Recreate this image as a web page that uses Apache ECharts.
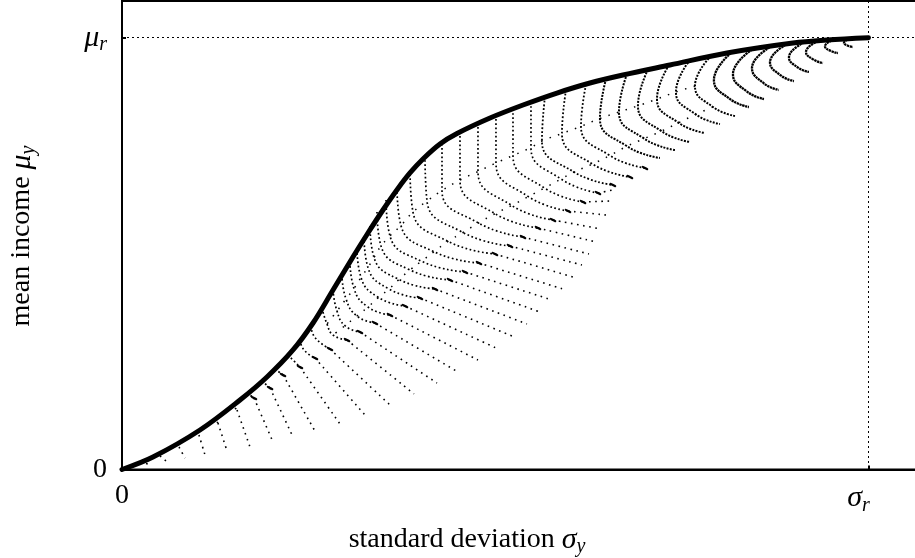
<!DOCTYPE html>
<html><head><meta charset="utf-8">
<script src="https://cdn.jsdelivr.net/npm/echarts@6/dist/echarts.min.js"></script>
<style>html,body{margin:0;padding:0;background:#fff}#c{width:915px;height:558px}</style>
</head><body><div id="c"></div>
<script>
// units: sigma in % of sigma_r, mu in % of mu_r
const frontierX = [0, 4.15, 10.45, 15.81, 19.42, 22.91, 25.59, 28.27, 30.94, 32.95, 34.96, 36.97, 38.58, 40.32, 42.60, 44.88, 49.30, 53.72, 58.27, 62.69, 67.11, 73.41, 81.05, 89.89, 94.44, 100];
const frontierY = [0, 2.89, 9.15, 16.10, 21.42, 27.68, 33.93, 41.57, 49.21, 54.77, 60.10, 65.08, 68.67, 71.91, 75.38, 77.81, 81.40, 84.41, 87.19, 89.51, 91.36, 93.68, 96.46, 98.77, 99.47, 100];

// curve heads: from frontier to the dense end
const arcHeads = [
 [[97.52,99.82],[96.72,98.82],[97.25,98.15],[97.92,97.85]],
 [[95.38,99.58],[94.17,98.01],[94.97,96.92],[95.92,96.46]],
 [[93.24,99.24],[91.63,96.69],[92.66,94.91],[93.91,94.14]],
 [[91.36,98.89],[89.35,95.46],[90.56,93.08],[92.03,92.06]],
 [[89.22,98.66],[86.81,94.30],[88.25,91.27],[90.02,89.97]],
 [[87.07,98.08],[84.40,92.98],[86.00,89.42],[88.01,87.89]],
 [[84.40,97.27],[81.85,91.53],[83.73,87.52],[86.00,85.80]],
 [[81.58,96.46],[79.30,90.20],[81.42,85.83],[83.99,83.95]],
 [[78.90,95.76],[76.76,88.81],[79.17,83.95],[82.12,81.87]],
 [[76.09,94.84],[74.21,87.43],[76.87,82.24],[80.11,80.01]],
 [[73.28,93.68],[71.67,85.80],[74.56,80.29],[78.10,77.93]],
 [[70.46,92.64],[69.12,84.23],[72.26,78.37],[76.09,75.85]],
 [[67.65,91.59],[66.58,82.79],[69.95,76.63],[74.08,73.99]],
 [[64.84,90.44],[64.03,81.29],[67.65,74.87],[72.07,72.14]],
 [[62.16,89.16],[61.49,79.48],[65.35,72.72],[70.06,69.82]],
 [[59.48,87.89],[58.94,77.81],[63.04,70.75],[68.05,67.74]],
 [[56.66,86.27],[56.26,76.08],[60.55,68.90],[65.77,65.89]],
 [[54.79,85.11],[54.79,74.57],[58.81,67.28],[63.76,64.03]],
 [[52.38,83.49],[52.38,72.72],[56.60,65.19],[61.76,61.95]],
 [[50.10,82.10],[50.10,70.98],[54.44,63.20],[59.75,59.87]],
 [[47.69,80.25],[47.69,69.01],[52.22,61.14],[57.74,57.78]],
 [[45.28,78.16],[45.28,67.05],[49.97,59.26],[55.73,55.93]],
 [[42.87,75.38],[42.87,64.61],[47.76,57.09],[53.72,53.84]],
 [[40.59,72.60],[40.86,62.18],[45.68,54.89],[51.98,51.76]],
 [[38.58,69.36],[38.98,59.63],[43.67,52.83],[49.97,49.91]],
 [[36.84,65.19],[37.37,56.51],[41.80,50.42],[47.82,47.82]],
 [[35.37,62.41],[35.90,54.08],[40.12,48.24],[45.95,45.74]],
 [[34.16,59.63],[34.70,51.76],[38.58,46.20],[43.94,43.89]],
 [[33.22,56.39],[33.76,49.10],[37.11,44.00],[41.93,41.80]],
 [[32.42,53.84],[32.95,46.78],[35.77,41.80],[39.92,39.72]],
 [[31.48,51.07],[32.02,44.47],[34.37,39.83],[37.91,37.86]],
 [[30.54,48.05],[31.08,41.92],[32.95,37.63],[35.90,35.78]],
 [[29.47,45.04],[30.01,39.49],[31.48,35.55],[33.89,33.93]],
 [[28.27,41.57],[28.80,36.71],[29.87,33.30],[31.88,31.84]],
 [[26.79,37.40],[27.46,33.70],[28.27,31.15],[30.14,29.99]],
 [[25.32,33.23],[25.85,30.57],[27.86,27.91]],
 [[23.84,29.99],[24.38,27.68],[25.85,25.82]],
 [[22.24,26.52],[23.84,23.74]],
 [[20.50,23.27],[21.57,21.89]],
 [[18.75,20.50],[19.83,18.87]],
 [[16.75,17.72],[17.68,16.56]],
 [[14.74,14.94],[15.41,13.78]],
 [[12.32,11.70],[12.86,10.77]],
 [[9.91,8.68],[10.31,7.99]],
 [[7.37,5.91],[7.64,5.21]],
 [[4.82,3.59],[5.09,3.13]]
];

// curve tails: from the dense end down to the lower edge of the cloud
const arcTails = [
 [[63.76,64.03],[65.77,64.73]],
 [[61.76,61.95],[65.37,62.18]],
 [[59.75,59.87],[64.84,58.94]],
 [[57.74,57.78],[64.17,55.70]],
 [[55.73,55.93],[63.50,52.69]],
 [[53.72,53.84],[62.56,49.91]],
 [[51.98,51.76],[61.62,47.36]],
 [[49.97,49.91],[60.42,44.58]],
 [[47.82,47.82],[59.08,41.80]],
 [[45.95,45.74],[57.60,39.25]],
 [[43.94,43.89],[56.00,36.48]],
 [[41.93,41.80],[54.25,33.70]],
 [[39.92,39.72],[52.24,30.92]],
 [[37.91,37.86],[50.10,28.14]],
 [[35.90,35.78],[47.69,25.36]],
 [[33.89,33.93],[45.01,22.58]],
 [[31.88,31.84],[42.20,20.03]],
 [[30.14,29.99],[39.12,17.49]],
 [[27.86,27.91],[35.90,14.94]],
 [[25.85,25.82],[32.55,12.62]],
 [[23.84,23.74],[29.20,10.54]],
 [[21.57,21.89],[25.85,8.92]],
 [[19.83,18.87],[22.91,7.53]],
 [[17.68,16.56],[20.23,6.37]],
 [[15.41,13.78],[17.15,5.21]],
 [[12.86,10.77],[14.07,4.28]],
 [[10.31,7.99],[11.12,3.36]],
 [[7.64,5.21],[8.44,2.66]],
 [[5.09,3.13],[5.89,1.97]],
 [[2.41,1.74],[3.48,1.27]]
];

const xTickLabels = ['0', '{i|σ}{sx|r}'];
const yTickLabels = ['0', '{i|μ}{s|r}'];
const xTitle = '{n|standard deviation }{i|σ}{s|y}';
const yTitle = '{n|mean income }{i|μ}{s|y}';

const FONT = '"Liberation Serif", "DejaVu Serif", serif';
const rich = {
  i: {fontFamily: FONT, fontStyle: 'italic', fontSize: 30, color: '#000'},
  s: {fontFamily: FONT, fontStyle: 'italic', fontSize: 20, color: '#000', padding: [14, 0, 0, 0]},
  sx: {fontFamily: FONT, fontStyle: 'italic', fontSize: 20, color: '#000', padding: [14, 20, 0, 0]},
  n: {fontFamily: FONT, fontSize: 28, color: '#000'}
};

function headStyle(i) {
  if (i < 8) return {w: 2.3, gap: 0.6};
  if (i < 14) return {w: 2, gap: 1.3};
  if (i < 17) return {w: 1.8, gap: 2};
  return {w: 1.7, gap: 2.5};
}

const series = [];
arcHeads.forEach((pts, i) => {
  const st = headStyle(i);
  const isDash = i >= 14 && i <= 40;
  const data = pts.map((p, j) => (isDash && j === pts.length - 1)
    ? {value: p, symbol: 'roundRect', symbolSize: [7, 2.2], symbolRotate: -28}
    : {value: p, symbol: 'none'});
  series.push({type: 'line', data: data, smooth: 0.5, showSymbol: true, silent: true, z: 2,
    itemStyle: {color: '#000'},
    lineStyle: {color: '#000', width: st.w, type: [st.w, st.gap], cap: 'butt'}});
});
arcTails.forEach((pts) => {
  series.push({type: 'line', data: pts, smooth: 0.3, symbol: 'none', silent: true, z: 2,
    lineStyle: {color: '#000', width: 1.6, type: [1.6, 4.5], cap: 'butt'}});
});
// sparse cross rows of the same dot lattice, joining corresponding points of neighbouring curves
const rows = [
  arcHeads.slice(8, 35).map(a => a[1]),
  arcHeads.slice(8, 35).map(a => a[2])
];
rows.forEach((pts) => {
  series.push({type: 'line', data: pts, smooth: 0.4, symbol: 'none', silent: true, z: 2,
    lineStyle: {color: '#000', width: 1.5, type: [1.5, 7.5], cap: 'butt'}});
});
series.push({type: 'line', data: frontierX.map((x, i) => [x, frontierY[i]]), smooth: 0.35,
  symbol: 'none', silent: true, z: 5, lineStyle: {color: '#000', width: 5, cap: 'round', join: 'round'}});

function tickFmt(labels) {
  return (v) => v === 0 ? labels[0] : (v === 100 ? labels[1] : '');
}

const chart = echarts.init(document.getElementById('c'), null, {renderer: 'canvas'});
chart.setOption({
  animation: false,
  backgroundColor: '#fff',
  grid: {left: 122, top: 1, width: 798.7, height: 468.5, show: true, borderColor: '#000', borderWidth: 2,
    containLabel: false, outerBoundsMode: 'none'},
  xAxis: {
    type: 'value', min: 0, max: 107, interval: 100,
    axisLine: {show: true, lineStyle: {color: '#000', width: 2}},
    axisTick: {show: true, inside: true, length: 4, lineStyle: {color: '#000', width: 2}},
    splitLine: {show: true, lineStyle: {color: '#000', width: 1, type: [2, 3]}},
    axisLabel: {margin: 12, formatter: tickFmt(xTickLabels), rich: rich, fontFamily: FONT, fontSize: 28, color: '#000',
      showMaxLabel: false}
  },
  yAxis: {
    type: 'value', min: 0, max: 108.5, interval: 100,
    axisLine: {show: true, lineStyle: {color: '#000', width: 2}},
    axisTick: {show: true, inside: true, length: 4, lineStyle: {color: '#000', width: 2}},
    splitLine: {show: true, lineStyle: {color: '#000', width: 1, type: [2, 3]}},
    axisLabel: {margin: 15, formatter: tickFmt(yTickLabels), rich: rich, fontFamily: FONT, fontSize: 28, color: '#000',
      showMaxLabel: false}
  },
  graphic: [
    {type: 'text', x: 467, y: 540, silent: true,
      style: {text: xTitle, rich: rich, align: 'center', verticalAlign: 'middle'}},
    {type: 'text', x: 22, y: 236, rotation: Math.PI / 2, silent: true,
      style: {text: yTitle, rich: rich, align: 'center', verticalAlign: 'middle'}}
  ],
  series: series
});
</script>
</body></html>
